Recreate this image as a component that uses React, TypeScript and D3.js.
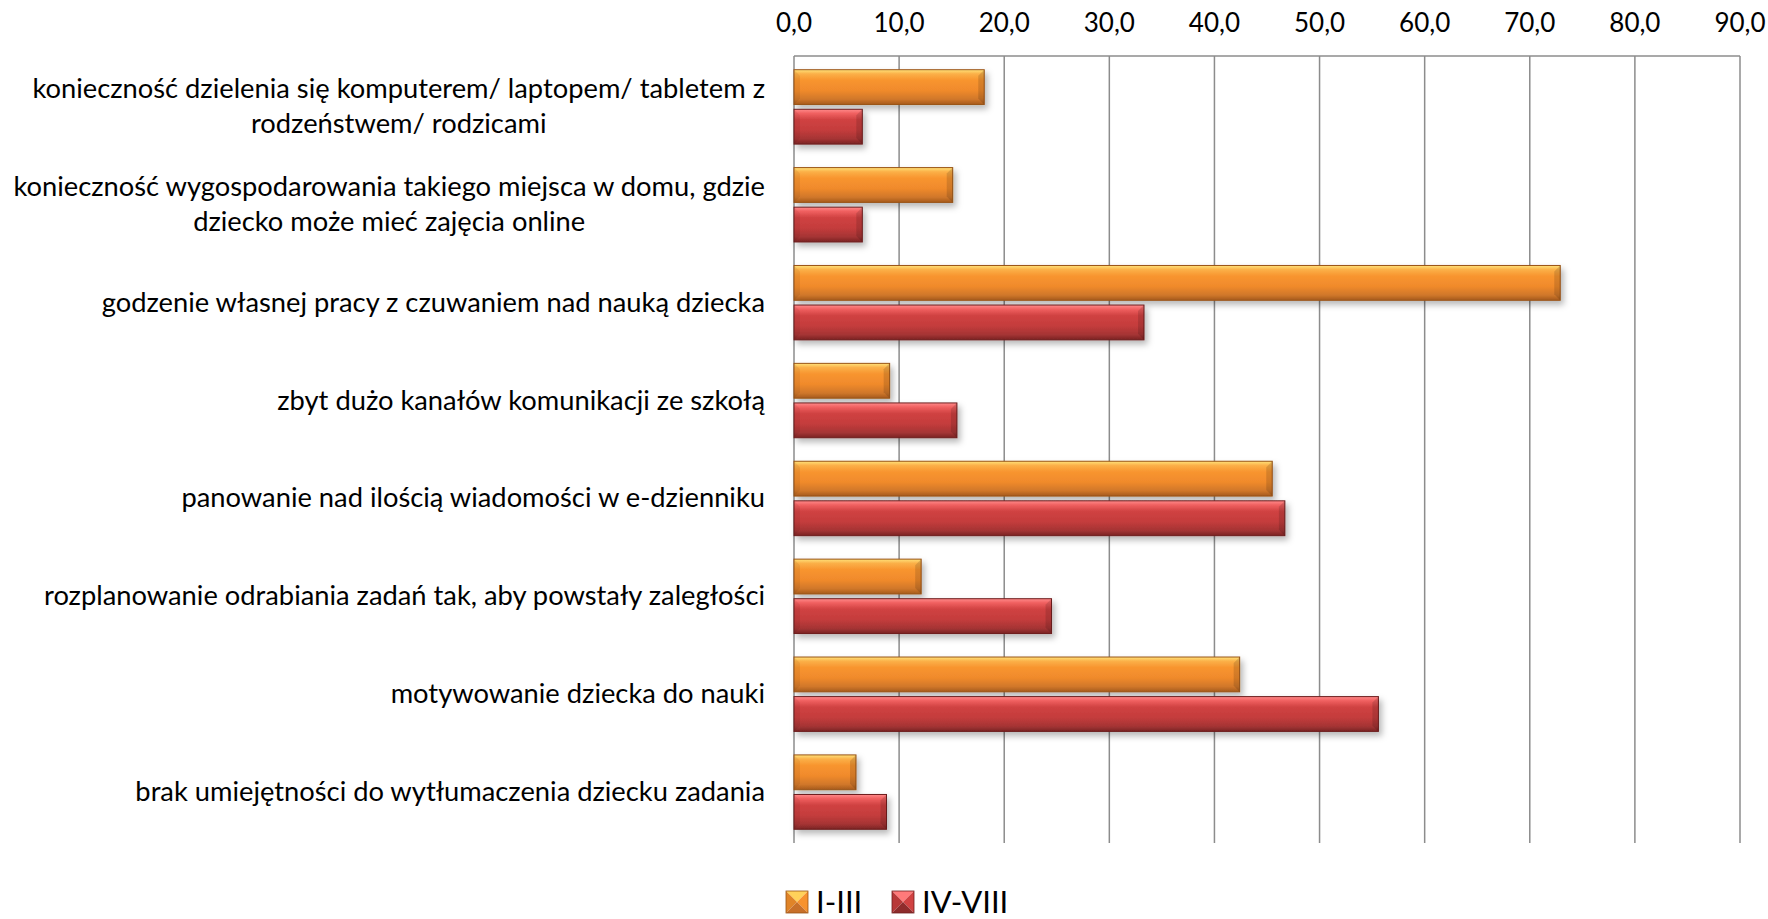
import React, { useEffect, useRef } from "react";
import * as d3 from "d3";

const categories: string[][] = [
  ["konieczność dzielenia się komputerem/ laptopem/ tabletem z", "rodzeństwem/ rodzicami"],
  ["konieczność wygospodarowania takiego miejsca w domu, gdzie", "dziecko może mieć zajęcia online"],
  ["godzenie własnej pracy z czuwaniem nad nauką dziecka"],
  ["zbyt dużo kanałów komunikacji ze szkołą"],
  ["panowanie nad ilością wiadomości w e-dzienniku"],
  ["rozplanowanie odrabiania zadań tak, aby powstały zaległości"],
  ["motywowanie dziecka do nauki"],
  ["brak umiejętności do wytłumaczenia dziecku zadania"],
];
const seriesNames = ["I-III", "IV-VIII"];
const valuesI_III = [18.1, 15.1, 72.9, 9.1, 45.5, 12.1, 42.4, 5.9];
const valuesIV_VIII = [6.5, 6.5, 33.3, 15.5, 46.7, 24.5, 55.6, 8.8];
const ticks = [0, 10, 20, 30, 40, 50, 60, 70, 80, 90];

const W = 1768;
const H = 919;
const FONT = "Lato, 'Open Sans', sans-serif";

const palettes = [
  { id: "gOrange", stops: ["#ffe27a", "#fbb048", "#f8952f", "#f08a2c", "#d0772a", "#a55a1c"], edge: "#9a5416", mark: ["#ffd25a", "#f7922e", "#c8702a", "#e08428"] },
  { id: "gRed", stops: ["#ff8a8a", "#f06060", "#d04242", "#c43c3c", "#a53434", "#7a2424"], edge: "#6e1e1e", mark: ["#ff7a7a", "#d04242", "#8e2c2c", "#b83838"] },
];

export default function App() {
  const ref = useRef<SVGSVGElement>(null);

  useEffect(() => {
    const svg = d3.select(ref.current);
    svg.selectAll("*").remove();

    const left = 794, right = 1740, top = 56, bottom = 843;
    const x = d3.scaleLinear().domain([0, 90]).range([left, right]);
    const y0 = d3.scaleBand<number>().domain(d3.range(categories.length)).range([top, bottom]).paddingInner(0.24).paddingOuter(0.14);
    const y1 = d3.scaleBand<number>().domain([0, 1]).range([0, y0.bandwidth()]).paddingInner(0.12);

    const defs = svg.append("defs");
    palettes.forEach((p) => {
      const g = defs.append("linearGradient").attr("id", p.id).attr("x1", 0).attr("y1", 0).attr("x2", 0).attr("y2", 1);
      const offs = [0, 0.12, 0.3, 0.6, 0.85, 1];
      p.stops.forEach((c, i) => g.append("stop").attr("offset", offs[i]).attr("stop-color", c));
    });
    const f = defs.append("filter").attr("id", "shadow").attr("x", "-10%").attr("y", "-30%").attr("width", "130%").attr("height", "180%");
    f.append("feDropShadow").attr("dx", 3).attr("dy", 4).attr("stdDeviation", 3).attr("flood-color", "#000").attr("flood-opacity", 0.28);

    // gridlines
    svg.append("g").selectAll("line").data(ticks).join("line")
      .attr("x1", (d) => x(d)).attr("x2", (d) => x(d)).attr("y1", top).attr("y2", bottom)
      .attr("stroke", "#8c8c8c").attr("stroke-width", 1.5);
    svg.append("line").attr("x1", left).attr("x2", right).attr("y1", top).attr("y2", top)
      .attr("stroke", "#8c8c8c").attr("stroke-width", 1.5);

    // tick labels
    svg.append("g").selectAll("text").data(ticks).join("text")
      .attr("x", (d) => x(d)).attr("y", 32).attr("text-anchor", "middle")
      .attr("font-family", FONT).attr("font-size", 26).attr("fill", "#000")
      .text((d) => d3.format(".1f")(d).replace(".", ","));

    // bars
    const seriesVals = [valuesI_III, valuesIV_VIII];
    const b = 6;
    seriesVals.forEach((vals, s) => {
      const p = palettes[s];
      const g = svg.append("g");
      vals.forEach((v, i) => {
        const yy = (y0(i) as number) + (y1(s) as number);
        const h = y1.bandwidth();
        const x0 = x(0), xe = x(v);
        const bar = g.append("g");
        bar.append("rect").attr("x", x0).attr("y", yy).attr("width", xe - x0).attr("height", h)
          .attr("fill", `url(#${p.id})`).attr("stroke", p.edge).attr("stroke-width", 1).attr("filter", "url(#shadow)");
        bar.append("polygon")
          .attr("points", [[xe - b, yy + b], [xe, yy], [xe, yy + h], [xe - b, yy + h - b]].map((q) => q.join(",")).join(" "))
          .attr("fill", "#000").attr("fill-opacity", 0.13);
        bar.append("polygon")
          .attr("points", [[x0, yy], [x0 + b, yy + b], [x0 + b, yy + h - b], [x0, yy + h]].map((q) => q.join(",")).join(" "))
          .attr("fill", "#000").attr("fill-opacity", 0.06);
      });
    });

    // category labels
    const labelRight = 765;
    const lineH = 35;
    const lg = svg.append("g");
    categories.forEach((lines, i) => {
      const cy = (y0(i) as number) + y0.bandwidth() / 2;
      const t = lg.append("text").attr("font-family", FONT).attr("font-size", 27.3).attr("fill", "#000").attr("text-anchor", "middle");
      const tspans = lines.map((ln, k) =>
        t.append("tspan").attr("y", cy + (k - (lines.length - 1) / 2) * lineH + 9).text(ln)
      );
      const maxW = d3.max(tspans, (ts) => (ts.node() as SVGTSpanElement).getComputedTextLength()) || 0;
      const cx = labelRight - maxW / 2;
      tspans.forEach((ts) => ts.attr("x", cx));
    });

    // legend
    const leg = svg.append("g");
    const items = [{ x: 786 }, { x: 892 }];
    const m = 22, ly = 891;
    items.forEach((it, s) => {
      const p = palettes[s];
      const x0 = it.x, y00 = ly, cx = x0 + m / 2, cy = y00 + m / 2;
      const tri = (pts: number[][], c: string) =>
        leg.append("polygon").attr("points", pts.map((q) => q.join(",")).join(" ")).attr("fill", c);
      tri([[x0, y00], [x0 + m, y00], [cx, cy]], p.mark[0]);
      tri([[x0, y00], [cx, cy], [x0, y00 + m]], p.mark[3]);
      tri([[x0 + m, y00], [x0 + m, y00 + m], [cx, cy]], p.mark[1]);
      tri([[x0, y00 + m], [x0 + m, y00 + m], [cx, cy]], p.mark[2]);
      leg.append("rect").attr("x", x0).attr("y", y00).attr("width", m).attr("height", m)
        .attr("fill", "none").attr("stroke", p.edge).attr("stroke-width", 0.8);
      leg.append("text").attr("x", x0 + m + 8).attr("y", y00 + m)
        .attr("font-family", FONT).attr("font-size", 31).attr("fill", "#000").text(seriesNames[s]);
    });
  }, []);

  return (
    <svg ref={ref} width={W} height={H} style={{ position: "absolute", left: 0, top: 0, background: "#fff" }} />
  );
}
